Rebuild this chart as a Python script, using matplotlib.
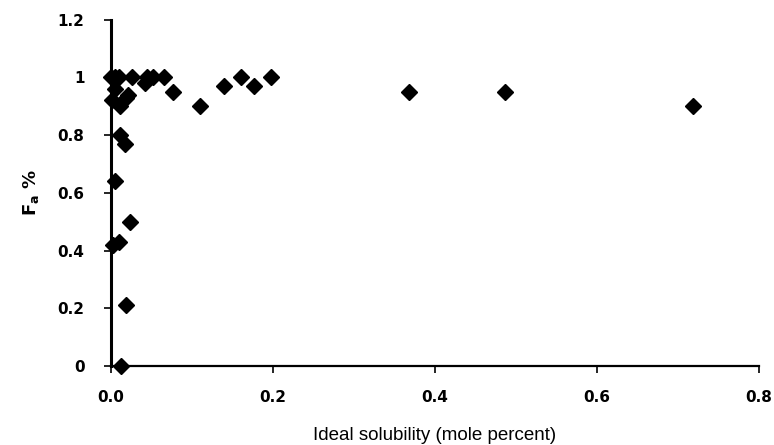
import matplotlib
matplotlib.use("Agg")
import matplotlib.pyplot as plt
from matplotlib.ticker import FixedLocator, FixedFormatter

# ideal solubility (mole percent) vs fraction absorbed
solubility = [0.000, 0.005, 0.010, 0.026, 0.044, 0.052, 0.065, 0.042,
              0.005, 0.021, 0.001, 0.011, 0.019, 0.011, 0.017, 0.005,
              0.023, 0.003, 0.010, 0.019, 0.012,
              0.077, 0.110, 0.139, 0.161, 0.177, 0.198,
              0.368, 0.486, 0.718]
fa = [1.00, 1.00, 1.00, 1.00, 1.00, 1.00, 1.00, 0.98,
      0.96, 0.94, 0.92, 0.90, 0.93, 0.80, 0.77, 0.64,
      0.50, 0.42, 0.43, 0.21, 0.00,
      0.95, 0.90, 0.97, 1.00, 0.97, 1.00,
      0.95, 0.95, 0.90]

xticks = [0.0, 0.2, 0.4, 0.6, 0.8]
xticklabels = ["0.0", "0.2", "0.4", "0.6", "0.8"]
yticks = [0, 0.2, 0.4, 0.6, 0.8, 1.0, 1.2]
yticklabels = ["0", "0.2", "0.4", "0.6", "0.8", "1", "1.2"]

fig = plt.figure(figsize=(7.74, 4.45), dpi=100)
ax = fig.add_axes([0.1434, 0.1775, 0.8372, 0.7785])

ax.plot(solubility, fa, linestyle="none", marker="D", markersize=8,
        color="black", clip_on=False, zorder=3)

ax.set_xlim(0, 0.8)
ax.set_ylim(0, 1.2)
ax.xaxis.set_major_locator(FixedLocator(xticks))
ax.xaxis.set_major_formatter(FixedFormatter(xticklabels))
ax.yaxis.set_major_locator(FixedLocator(yticks))
ax.yaxis.set_major_formatter(FixedFormatter(yticklabels))

for side in ["top", "right"]:
    ax.spines[side].set_visible(False)
ax.spines["left"].set_linewidth(2.2)
ax.spines["bottom"].set_linewidth(1.6)

ax.tick_params(axis="y", direction="out", length=5, width=1.2, pad=14,
               labelsize=11)
ax.tick_params(axis="x", direction="out", length=5, width=1.2, pad=12,
               labelsize=11)
for lbl in ax.get_xticklabels() + ax.get_yticklabels():
    lbl.set_fontweight("bold")
    lbl.set_family("DejaVu Sans")

ax.set_xlabel("Ideal solubility (mole percent)", fontsize=13.5,
              family="Liberation Sans", labelpad=16)
ax.set_ylabel(r"$\mathbf{F_a}$ %", fontsize=13, fontweight="bold",
              labelpad=12)

fig.savefig("out.png", dpi=100)
